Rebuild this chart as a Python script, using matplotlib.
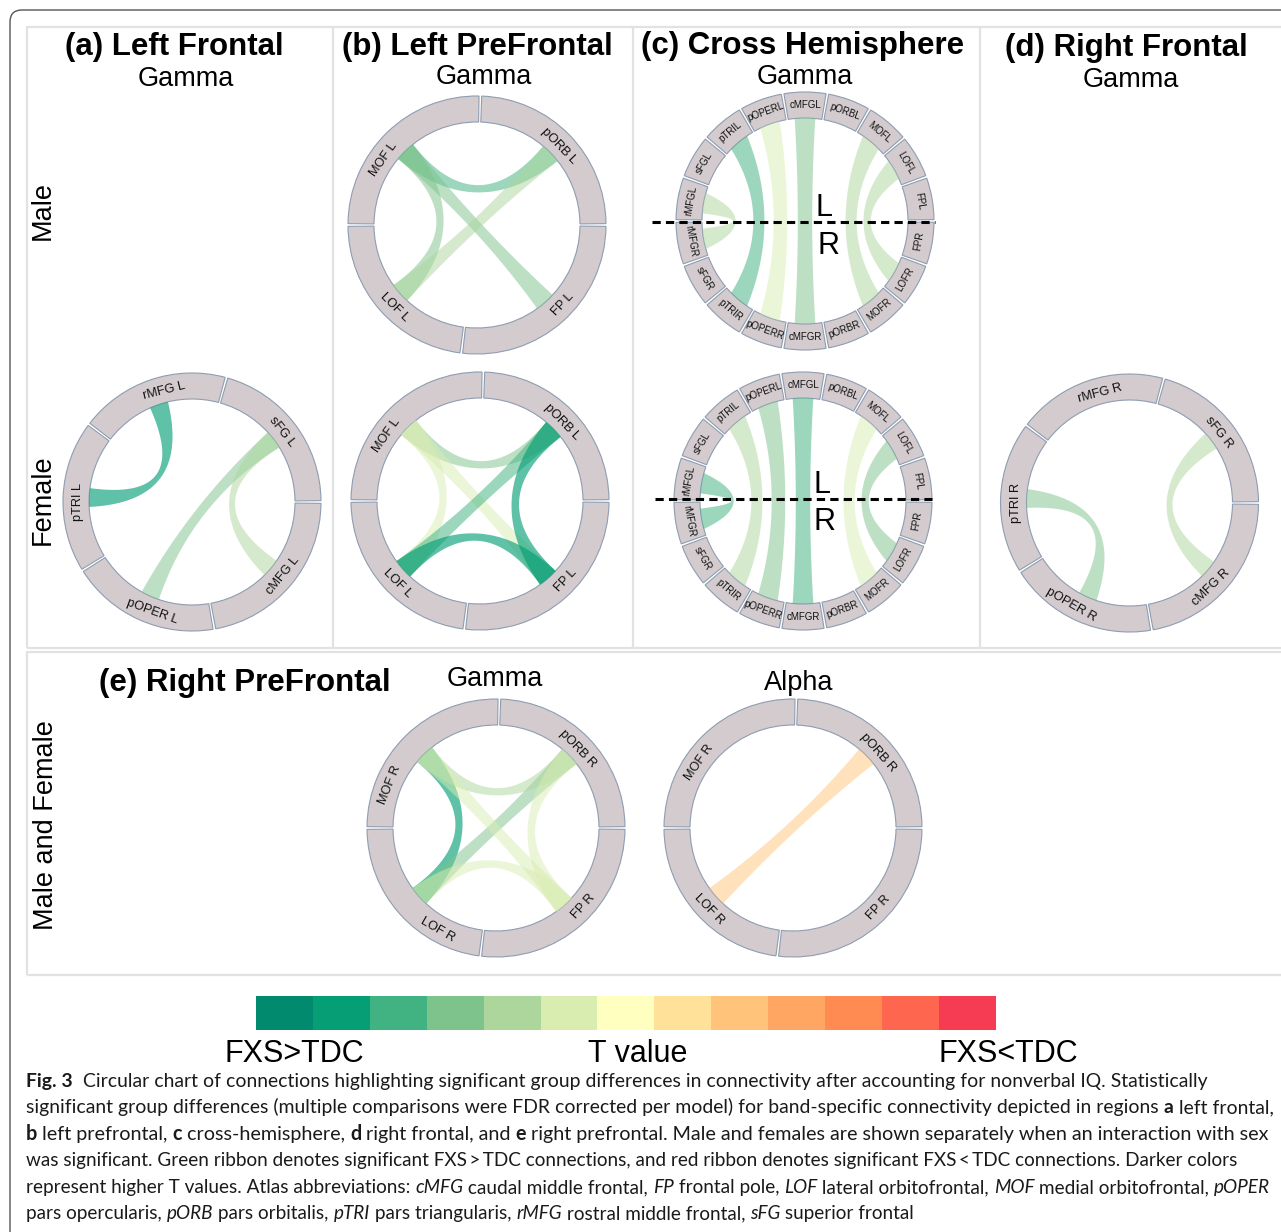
import numpy as np
import matplotlib
matplotlib.use("Agg")
import matplotlib.pyplot as plt
from matplotlib.patches import Wedge, Polygon, FancyBboxPatch, Rectangle
from matplotlib.colors import ListedColormap, to_rgb

W, H, DPI = 1281, 1232, 100

# ---------------------------------------------------------------- data
# T-value colour scale: strongest FXS>TDC (green) ... strongest FXS<TDC (red)
T_LEVELS = list(range(-6, 7))
T_COLORS = ["#018A6D", "#059E75", "#41B282", "#7DC38B", "#ADD69C", "#D9EDB1",
            "#FFFFBF", "#FFE19A", "#FFC47A", "#FEA662", "#FF8A52", "#FF6650", "#F53C52"]

# regions of each chord diagram
LF_SECTORS = ["sFG L", "rMFG L", "pTRI L", "pOPER L", "cMFG L"]
RF_SECTORS = ["sFG R", "rMFG R", "pTRI R", "pOPER R", "cMFG R"]
LPF_SECTORS = ["pORB L", "MOF L", "LOF L", "FP L"]
RPF_SECTORS = ["pORB R", "MOF R", "LOF R", "FP R"]
CROSS_SECTORS = ["FPL", "LOFL", "MOFL", "pORBL", "cMFGL", "pOPERL", "pTRIL", "sFGL", "rMFGL",
                 "rMFGR", "sFGR", "pTRIR", "pOPERR", "cMFGR", "pORBR", "MOFR", "LOFR", "FPR"]

# significant connections: (region, region, T level)
LF_FEMALE_GAMMA = [("rMFG L", "pTRI L", -5), ("sFG L", "pOPER L", -3), ("sFG L", "cMFG L", -2)]
LPF_MALE_GAMMA = [("MOF L", "pORB L", -4), ("MOF L", "FP L", -3), ("MOF L", "LOF L", -3),
                  ("LOF L", "pORB L", -2)]
LPF_FEMALE_GAMMA = [("MOF L", "pORB L", -3), ("MOF L", "FP L", -1), ("MOF L", "LOF L", -1),
                    ("LOF L", "pORB L", -4), ("LOF L", "FP L", -5), ("pORB L", "FP L", -5)]
CROSS_MALE_GAMMA = [("rMFGL", "rMFGR", -2), ("pTRIL", "pTRIR", -4), ("pOPERL", "pOPERR", -1),
                    ("cMFGL", "cMFGR", -3), ("MOFL", "MOFR", -2), ("LOFL", "LOFR", -2)]
CROSS_FEMALE_GAMMA = [("rMFGL", "rMFGR", -4), ("pTRIL", "pTRIR", -2), ("pOPERL", "pOPERR", -3),
                      ("cMFGL", "cMFGR", -4), ("MOFL", "MOFR", -1), ("LOFL", "LOFR", -3)]
RF_FEMALE_GAMMA = [("pTRI R", "pOPER R", -3), ("sFG R", "cMFG R", -2)]
RPF_GAMMA = [("MOF R", "LOF R", -5), ("LOF R", "pORB R", -3), ("MOF R", "pORB R", -2),
             ("MOF R", "FP R", -1), ("LOF R", "FP R", -1), ("pORB R", "FP R", -1)]
RPF_ALPHA = [("LOF R", "pORB R", 2)]

# ---------------------------------------------------------------- style / layout
RING_FILL = "#D3CBCE"
RING_EDGE = "#8E9DB1"
LINK_ALPHA = {0: 0.5, 1: 0.5, 2: 0.5, 3: 0.5, 4: 0.52, 5: 0.64, 6: 0.72}
SANS = "Liberation Sans"

FIVE_BOUNDS = [0, 74.5, 143, 212, 280, 360]
FOUR_BOUNDS = [0, 88.5, 180, 263, 360]
CROSS_BOUNDS = list(np.arange(0, 361, 20))

fig = plt.figure(figsize=(W / DPI, H / DPI), dpi=DPI)
fig.patch.set_facecolor("white")
ax = fig.add_axes([0, 0, 1, 1])
ax.set_xlim(0, W)
ax.set_ylim(0, H)
ax.axis("off")


def Y(y):
    return H - y


def polar(cx, cy, r, th):
    t = np.deg2rad(th)
    return np.array([cx + r * np.cos(t), cy + r * np.sin(t)])


def ribbon(cx, cy, r, a, b, width, h_ratio):
    a1, a2 = a - width / 2, a + width / 2
    b1, b2 = b - width / 2, b + width / 2
    c = np.array([cx, cy])

    def arc(t0, t1):
        ts = np.linspace(t0, t1, 20)
        return np.array([polar(cx, cy, r, t) for t in ts])

    def bez(t0, t1):
        p0 = polar(cx, cy, r, t0) - c
        p2 = polar(cx, cy, r, t1) - c
        ctrl = (1 - 2 * h_ratio) * (p0 + p2) / 2
        s = np.linspace(0, 1, 80)[:, None]
        pts = (1 - s) ** 2 * p0 + 2 * s * (1 - s) * ctrl + s ** 2 * p2
        return pts + c

    return np.vstack([arc(a1, a2), bez(a2, b1), arc(b1, b2), bez(b2, a1)])


def chord(center, names, bounds, links, label_angles=None, h_ratio=0.5, width=11.5,
          fsize=9.2, r_in=103, r_out=129, r_lab=(114, 117), gap=0.6):
    cx, cy = center[0], Y(center[1])
    mids = {}
    for i, name in enumerate(names):
        t0, t1 = bounds[i], bounds[i + 1]
        mids[name] = (t0 + t1) / 2
        ax.add_patch(Wedge((cx, cy), r_out, t0 + gap, t1 - gap, width=r_out - r_in,
                           facecolor=RING_FILL, edgecolor=RING_EDGE, lw=0.8, zorder=2))
    for i, name in enumerate(names):
        th = label_angles[i] if label_angles is not None else mids[name]
        th = th % 360
        if th <= 181:
            rot, rl = th - 90, r_lab[0]
        else:
            rot, rl = th + 90, r_lab[1]
        x, y = polar(cx, cy, rl, th)
        ax.text(x, y, name, rotation=rot, rotation_mode="anchor", ha="center",
                va="center", fontsize=fsize, family=SANS, color="#111111", zorder=4)
    for s, t, lvl in links:
        rgb = to_rgb(T_COLORS[T_LEVELS.index(lvl)])
        pts = ribbon(cx, cy, r_in, mids[s], mids[t], width, h_ratio)
        ax.add_patch(Polygon(pts, closed=True, facecolor=rgb, edgecolor="none",
                             alpha=LINK_ALPHA[abs(lvl)], zorder=3))


# ---------------------------------------------------------------- frames
ax.add_patch(FancyBboxPatch((10, -40), W + 60, Y(10) + 40,
                            boxstyle="round,pad=0,rounding_size=12",
                            facecolor="none", edgecolor="#555555", lw=1.0, zorder=0))
FRAME = "#E2E2E2"
ax.add_patch(Rectangle((27, Y(648)), W, 648 - 27, facecolor="none", edgecolor=FRAME,
                       lw=1.6, zorder=1))
for xs in (333, 633, 980):
    ax.plot([xs, xs], [Y(27), Y(648)], color=FRAME, lw=1.6, zorder=1)
ax.add_patch(Rectangle((27, Y(975)), W, 975 - 652, facecolor="none", edgecolor=FRAME,
                       lw=1.6, zorder=1))

# ---------------------------------------------------------------- titles
def title(x, yb, s, size, bold=False):
    ax.text(x, Y(yb), s, ha="center", va="baseline", fontsize=size, family=SANS,
            fontweight="bold" if bold else "normal", color="black")


title(174, 55, "(a) Left Frontal", 22.5, True)
title(186, 85.5, "Gamma", 19.5)
title(477.5, 55, "(b) Left PreFrontal", 22.5, True)
title(484, 84.5, "Gamma", 19.5)
title(802.5, 54, "(c) Cross Hemisphere", 22.5, True)
title(805, 83.5, "Gamma", 19.5)
title(1126.5, 56, "(d) Right Frontal", 22.5, True)
title(1131, 87, "Gamma", 19.5)
title(244.5, 691, "(e) Right PreFrontal", 22.5, True)
title(495, 686.5, "Gamma", 19.5)
title(799, 689.5, "Alpha", 19.5)

for x, y, s in [(43, 210, "Male"), (43, 500, "Female"), (46, 825, "Male and Female")]:
    ax.text(x, Y(y), s, rotation=90, ha="center", va="center", fontsize=19.5,
            family=SANS, color="black")

# ---------------------------------------------------------------- chord diagrams
chord((192, 502), LF_SECTORS, FIVE_BOUNDS, LF_FEMALE_GAMMA,
      label_angles=[38, 104, 180, 250, 321], width=10.5)
chord((1129.5, 503), RF_SECTORS, FIVE_BOUNDS, RF_FEMALE_GAMMA,
      label_angles=[38.5, 105, 180, 240, 314], width=10.5)
chord((477, 225), LPF_SECTORS, FOUR_BOUNDS, LPF_MALE_GAMMA,
      label_angles=[44, 145, 225, 317])
chord((480, 501), LPF_SECTORS, FOUR_BOUNDS, LPF_FEMALE_GAMMA,
      label_angles=[44, 145, 225, 317])
chord((496, 828), RPF_SECTORS, FOUR_BOUNDS, RPF_GAMMA,
      label_angles=[44, 158, 240, 318])
chord((793, 828), RPF_SECTORS, FOUR_BOUNDS, RPF_ALPHA,
      label_angles=[41.5, 145, 224, 317])
chord((805, 221), CROSS_SECTORS, CROSS_BOUNDS, CROSS_MALE_GAMMA, h_ratio=0.3,
      fsize=7.0, r_lab=(116, 116))
chord((803, 501), CROSS_SECTORS, CROSS_BOUNDS, CROSS_FEMALE_GAMMA, h_ratio=0.3,
      fsize=7.0, r_lab=(116, 116))

# hemisphere divider in the cross-hemisphere diagrams
for x0, x1, yd, lx, ly, rx, ry in [(652, 935, 222, 824, 216, 828, 254),
                                   (655, 932, 499, 822, 493, 824, 530)]:
    ax.plot([x0, x1], [Y(yd), Y(yd)], color="black", lw=2.2, ls=(0, (2.7, 1.7)), zorder=5)
    ax.text(lx, Y(ly), "L", ha="center", va="baseline", fontsize=22, family=SANS, zorder=5)
    ax.text(rx, Y(ry), "R", ha="center", va="baseline", fontsize=22, family=SANS, zorder=5)

# ---------------------------------------------------------------- colour bar
cax = fig.add_axes([256 / W, (H - 1030) / H, 740 / W, 34 / H])
cax.imshow(np.array(T_LEVELS)[None, :], cmap=ListedColormap(T_COLORS), aspect="auto",
           interpolation="nearest", vmin=-6.5, vmax=6.5)
cax.axis("off")
for x, s in [(294, "FXS>TDC"), (637.5, "T value"), (1008, "FXS<TDC")]:
    ax.text(x, Y(1062), s, ha="center", va="baseline", fontsize=22, family=SANS)

# ---------------------------------------------------------------- caption
CAPTION = [
    [("Fig. 3", "b"), ("  Circular chart of connections highlighting significant group differences "
                       "in connectivity after accounting for nonverbal IQ. Statistically", "n")],
    [("significant group differences (multiple comparisons were FDR corrected per model) for "
      "band-specific connectivity depicted in regions ", "n"), ("a", "b"), (" left frontal,", "n")],
    [("b", "b"), (" left prefrontal, ", "n"), ("c", "b"), (" cross-hemisphere, ", "n"), ("d", "b"),
     (" right frontal, and ", "n"), ("e", "b"),
     (" right prefrontal. Male and females are shown separately when an interaction with sex", "n")],
    [("was significant. Green ribbon denotes significant FXS\u2009>\u2009TDC connections, and red "
      "ribbon denotes significant FXS\u2009<\u2009TDC connections. Darker colors", "n")],
    [("represent higher T values. Atlas abbreviations: ", "n"), ("cMFG", "i"),
     (" caudal middle frontal, ", "n"), ("FP", "i"), (" frontal pole, ", "n"), ("LOF", "i"),
     (" lateral orbitofrontal, ", "n"), ("MOF", "i"), (" medial orbitofrontal, ", "n"),
     ("pOPER", "i")],
    [("pars opercularis, ", "n"), ("pORB", "i"), (" pars orbitalis, ", "n"), ("pTRI", "i"),
     (" pars triangularis, ", "n"), ("rMFG", "i"), (" rostral middle frontal, ", "n"),
     ("sFG", "i"), (" superior frontal", "n")],
]
CAP_LEFT = 26
CAP_RIGHT = [1207, 1271, 1273, 1240, 1271, 913]
CAP_BASE = [1087, 1113, 1140, 1166, 1193, 1219]
CAP_FONT = ["Lato", "DejaVu Sans"]
renderer = fig.canvas.get_renderer()


def style_kw(st, fs):
    kw = dict(family=CAP_FONT, fontsize=fs, color="#1a1a1a")
    if st == "b":
        kw["fontweight"] = "bold"
    elif st == "i":
        kw["fontstyle"] = "italic"
    return kw


def text_width(s, st, fs):
    t = ax.text(0, 0, "|" + s + "|", **style_kw(st, fs))
    w1 = t.get_window_extent(renderer).width
    t.remove()
    t = ax.text(0, 0, "||", **style_kw(st, fs))
    w0 = t.get_window_extent(renderer).width
    t.remove()
    return w1 - w0


BASE_FS = 10.0
for line, right, yb in zip(CAPTION, CAP_RIGHT, CAP_BASE):
    natural = sum(text_width(s, st, BASE_FS) for s, st in line)
    fs = BASE_FS * (right - CAP_LEFT) / natural
    fs = min(max(fs, 13.0), 14.2)
    x = CAP_LEFT
    for s, st in line:
        ax.text(x, Y(yb), s, ha="left", va="baseline", **style_kw(st, fs))
        x += text_width(s, st, fs)

fig.savefig("out.png", dpi=DPI, facecolor="white")
